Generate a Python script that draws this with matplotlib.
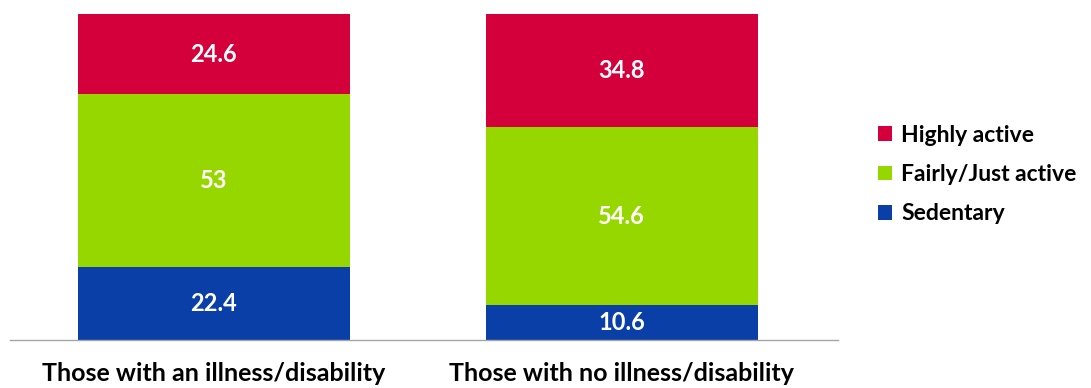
import matplotlib
matplotlib.use("Agg")
import matplotlib.pyplot as plt
import numpy as np

categories = ["Those with an illness/disability", "Those with no illness/disability"]
sedentary = [22.4, 10.6]
fairly = [53, 54.6]
highly = [24.6, 34.8]

plt.rcParams['font.family'] = ['Lato', 'DejaVu Sans']

fig = plt.figure(figsize=(10.91, 3.88), dpi=100)
ax = fig.add_axes([0.009, 0.124, 0.759, 0.84])

x = np.arange(len(categories))
w = 0.667
c_sed = "#0B3FA8"
c_fair = "#97D700"
c_high = "#D4003B"

b1 = ax.bar(x, sedentary, w, color=c_sed, label="Sedentary")
b2 = ax.bar(x, fairly, w, bottom=sedentary, color=c_fair, label="Fairly/Just active")
bottom2 = np.array(sedentary) + np.array(fairly)
b3 = ax.bar(x, highly, w, bottom=bottom2, color=c_high, label="Highly active")

for bars, vals, bots in [(b1, sedentary, [0, 0]), (b2, fairly, sedentary), (b3, highly, bottom2)]:
    for xi, v, b in zip(x, vals, bots):
        ax.text(xi, b + v / 2, f"{v:g}", ha="center", va="center", color="white",
                fontsize=17, fontweight="bold")

ax.set_xlim(-0.5, 1.53)
ax.set_ylim(0, 100)
ax.set_yticks([])
ax.set_xticks(x)
ax.set_xticklabels(categories, fontsize=18, fontweight="bold")
ax.tick_params(axis="x", length=0, pad=16)
for s in ["top", "right", "left"]:
    ax.spines[s].set_visible(False)
ax.spines["bottom"].set_color("#A6A6A6")
ax.spines["bottom"].set_linewidth(1)

handles = [b3, b2, b1]
leg = fig.legend(handles, [h.get_label() for h in handles], loc="center left",
                 bbox_to_anchor=(0.786, 0.55), frameon=False,
                 prop={"size": 16.5, "weight": "bold"}, handlelength=0.6, handleheight=0.6,
                 handletextpad=0.4, labelspacing=0.8)

fig.savefig("out.png", dpi=100)
